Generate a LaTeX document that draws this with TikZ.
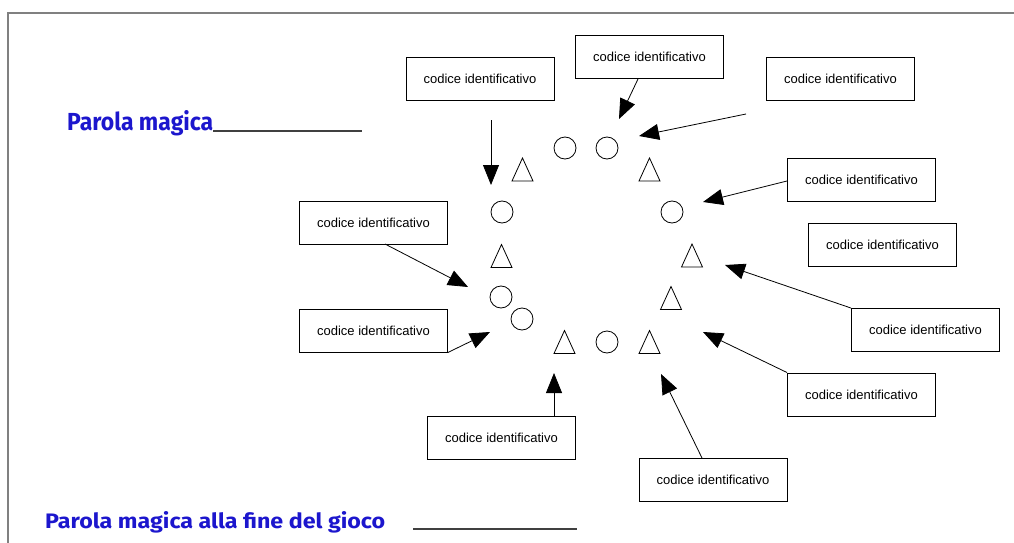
\documentclass[tikz,border=0pt]{standalone}
\usepackage{fontspec}
\setmainfont{Liberation Sans}
\newfontfamily\magicfont{Fira Sans}
\usetikzlibrary{arrows.meta,calc}
\definecolor{magicblue}{RGB}{28,22,205}
\definecolor{framegray}{RGB}{128,128,128}
\tikzset{
  codebox/.style={draw, line width=0.9pt, rectangle, minimum width=148pt, minimum height=43pt, inner sep=0pt, font=\fontsize{13}{15}\selectfont},
  pointer/.style={line width=0.8pt, -{Triangle[length=20pt,width=16pt]}},
  shape line/.style={line width=0.8pt},
  tri/.pic={\draw[shape line] (-10.5,11.5) -- (0,-11.5) -- (10.5,11.5) -- cycle;},
  ring/.style={draw, line width=0.8pt, circle, minimum size=22pt, inner sep=0pt},
  magic/.style={text=magicblue, inner sep=0pt, anchor=base west}
}
\begin{document}
\begin{tikzpicture}[x=1pt,y=-1pt]
\useasboundingbox (0,0) rectangle (1014,543);
% frame
\draw[framegray, line width=1.6pt] (8,543) -- (8,13) -- (1014,13);

% titles
\node[magic] (pm) at (67,130) {\resizebox{146pt}{20pt}{\magicfont\bfseries Parola magica}};
\coordinate (pmend) at (362,131);
\draw[line width=1.2pt, black!75] (pm.base east) ++(0,1) -- (pmend);
\node[magic] (pmf) at (45,528) {\resizebox{340pt}{17pt}{\magicfont\bfseries Parola magica alla fine del gioco}};
\coordinate (pmf1) at (413,529);
\coordinate (pmf2) at (577,529);
\draw[line width=1.2pt, black!75] (pmf1) -- (pmf2);

% boxes
\node[codebox] (A) at (480,79) {codice identificativo};
\node[codebox] (B) at (649.5,57) {codice identificativo};
\node[codebox] (C) at (840.5,78.5) {codice identificativo};
\node[codebox] (D) at (861.5,179.5) {codice identificativo};
\node[codebox] (E) at (882.5,244.5) {codice identificativo};
\node[codebox] (F) at (925.5,330) {codice identificativo};
\node[codebox] (G) at (861.5,394.5) {codice identificativo};
\node[codebox] (H) at (713,480) {codice identificativo};
\node[codebox] (I) at (501.5,437.5) {codice identificativo};
\node[codebox] (J) at (373.5,222.5) {codice identificativo};
\node[codebox] (K) at (373.5,330.5) {codice identificativo};

% circles
\node[ring] (c1) at (565,148) {};
\node[ring] (c2) at (607,148) {};
\node[ring] (c3) at (502,212) {};
\node[ring] (c4) at (672,212) {};
\node[ring] (c5) at (501,297) {};
\node[ring] (c6) at (522,319) {};
\node[ring] (c7) at (607,342) {};

% triangles
\pic at (522.5,169.5) {tri};
\pic at (649.5,169.5) {tri};
\pic at (501.5,256) {tri};
\pic at (564.5,342) {tri};
\pic at (649.5,342) {tri};
\pic at (692,255.5) {tri};
\pic at (671,298) {tri};

% arrow coordinates
\coordinate (s1) at (491,120);   \coordinate (t1) at (491,185);
\coordinate (s2) at (638,79);    \coordinate (t2) at (619,119);
\coordinate (s3) at (746,114);   \coordinate (t3) at (639,136);
\coordinate (t4) at (703,202);
\coordinate (t5) at (725,265);
\coordinate (t6) at (703,332);
\coordinate (s7) at (702,458);   \coordinate (t7) at (661,374);
\coordinate (s8) at (554,416);   \coordinate (t8) at (554,373);
\coordinate (s9) at (385,244);   \coordinate (t9) at (468,287);
\coordinate (t10) at (490,332);

\draw[pointer] (s1) -- (t1);
\draw[pointer] (s2) -- (t2);
\draw[pointer] (s3) -- (t3);
\draw[pointer] (D.west) ++(0,1.5) -- (t4);
\draw[pointer] (F.north west) -- (t5);
\draw[pointer] (G.north west) -- (t6);
\draw[pointer] (s7) -- (t7);
\draw[pointer] (s8) -- (t8);
\draw[pointer] (s9) -- (t9);
\draw[pointer] (K.south east) -- (t10);
\end{tikzpicture}
\end{document}
